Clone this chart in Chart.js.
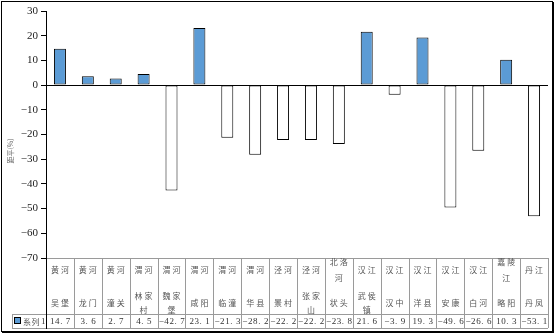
<!DOCTYPE html>
<html><head><meta charset="utf-8">
<script src="https://cdn.jsdelivr.net/npm/chart.js@4"></script>
<style>html,body{margin:0;padding:0;background:#fff}canvas{display:block}</style>
</head><body>
<canvas id="c" width="555" height="334" style="width:555px;height:334px"></canvas>
<script>
const rivers = ['黄河','黄河','黄河','渭河','渭河','渭河','渭河','渭河','泾河','泾河','北洛河','汉江','汉江','汉江','汉江','汉江','嘉陵江','丹江'];
const stations = ['吴堡','龙门','潼关','林家村','魏家堡','咸阳','临潼','华县','景村','张家山','状头','武侯镇','汉中','洋县','安康','白河','略阳','丹凤'];
const values = [14.7,3.6,2.7,4.5,-42.7,23.1,-21.3,-28.2,-22.2,-22.2,-23.8,21.6,-3.9,19.3,-49.6,-26.6,10.3,-53.1];
const seriesName = '系列1';
const axisTitle = '距平(%)';
const yMin = -70, yMax = 30, yStep = 10;

const fmt = v => v.toFixed(1).replace('-', '−');
const split2 = s => s.length > 2 ? [s.slice(0,2), s.slice(2)] : [s];

const tablePlugin = {
  id: 'table',
  afterDraw(chart) {
    const ctx = chart.ctx, ca = chart.chartArea, xs = chart.scales.x;
    const top = Math.round(ca.bottom), mid = 314, bot = 328, left = 12;
    const n = values.length;
    const colW = (ca.right - ca.left) / n;
    ctx.save();
    ctx.strokeStyle = '#9a9a9a'; ctx.lineWidth = 1;
    ctx.beginPath();
    ctx.moveTo(ca.left, top + 0.5); ctx.lineTo(ca.right, top + 0.5);
    ctx.moveTo(left, mid + 0.5); ctx.lineTo(ca.right, mid + 0.5);
    ctx.moveTo(left, bot + 0.5); ctx.lineTo(ca.right, bot + 0.5);
    ctx.moveTo(left + 0.5, mid); ctx.lineTo(left + 0.5, bot);
    for (let i = 1; i <= n; i++) {
      const x = Math.round(ca.left + i * colW) + 0.5;
      ctx.moveTo(x, top); ctx.lineTo(x, bot);
    }
    ctx.stroke();
    ctx.strokeStyle = '#000';
    ctx.beginPath();
    ctx.moveTo(Math.round(ca.left) + 0.5, ca.top); ctx.lineTo(Math.round(ca.left) + 0.5, bot + 1);
    ctx.stroke();
    // category texts
    ctx.fillStyle = '#555';
    ctx.textAlign = 'center'; ctx.textBaseline = 'middle';
    ctx.font = '8px "Noto Sans CJK SC"';
    ctx.letterSpacing = '2px';
    for (let i = 0; i < n; i++) {
      const cx = xs.getPixelForValue(i) + 1;
      const r = split2(rivers[i]);
      r.forEach((t, k) => ctx.fillText(t, cx, 270 + (k - (r.length - 1) / 2) * 16));
      const s = split2(stations[i]);
      s.forEach((t, k) => ctx.fillText(t, cx, 303 + (k - (s.length - 1) / 2) * 14));
    }
    // values
    ctx.fillStyle = '#333';
    ctx.font = '9px "Liberation Serif"';
    ctx.letterSpacing = '0.6px';
    for (let i = 0; i < n; i++) {
      const cx = xs.getPixelForValue(i) + 0.5;
      ctx.fillText(fmt(values[i]).replace('.', '. '), cx, 321.5);
    }
    // legend key
    ctx.fillStyle = '#5B9BD5'; ctx.strokeStyle = '#000';
    ctx.fillRect(14.5, 317.5, 6, 6); ctx.strokeRect(14.5, 317.5, 6, 6);
    ctx.fillStyle = '#555'; ctx.textAlign = 'left';
    ctx.font = '8px "Noto Sans CJK SC"'; ctx.letterSpacing = '0.5px';
    ctx.fillText(seriesName.slice(0, 2), 23, 321.5);
    ctx.fillStyle = '#333';
    ctx.font = '9px "Liberation Serif"';
    ctx.fillText(seriesName.slice(2), 41, 321.5);
    // axis title
    ctx.save();
    ctx.translate(10, 151); ctx.rotate(-Math.PI / 2);
    ctx.textAlign = 'center'; ctx.font = '7px "Noto Sans CJK SC"'; ctx.letterSpacing = '0px';
    ctx.fillStyle = '#666';
    ctx.fillText(axisTitle, 0, 0);
    ctx.restore();
    // outer border
    ctx.strokeStyle = '#000'; ctx.lineWidth = 1;
    ctx.strokeRect(1.5, 1.5, 551, 330);
    ctx.fillStyle = '#000'; ctx.fillRect(553, 2, 1, 331); ctx.fillRect(2, 332, 552, 1);
    ctx.restore();
  }
};

new Chart(document.getElementById('c'), {
  type: 'bar',
  data: {
    labels: stations,
    datasets: [{
      label: seriesName,
      data: values,
      backgroundColor: values.map(v => v >= 0 ? '#5B9BD5' : '#ffffff'),
      borderColor: '#000',
      borderWidth: 1,
      borderSkipped: false,
      barPercentage: 0.43,
      categoryPercentage: 1
    }]
  },
  options: {
    responsive: false,
    animation: false,
    devicePixelRatio: 1,
    layout: { padding: { top: 11, right: 7, bottom: 76, left: 0 } },
    plugins: { legend: { display: false }, tooltip: { enabled: false } },
    scales: {
      x: { display: false },
      y: {
        min: yMin, max: yMax,
        afterFit: s => { s.width = 46; },
        ticks: {
          stepSize: yStep,
          padding: 3,
          color: '#222',
          font: { family: 'Liberation Serif', size: 11 },
          callback: v => String(v).replace('-', '−')
        },
        grid: {
          drawOnChartArea: true,
          color: c => c.tick && c.tick.value === 0 ? '#000' : 'rgba(0,0,0,0)',
          tickColor: '#000',
          tickLength: 5,
          lineWidth: 1
        },
        border: { display: true, color: '#000', width: 1 }
      }
    }
  },
  plugins: [tablePlugin]
});
</script>
</body></html>
